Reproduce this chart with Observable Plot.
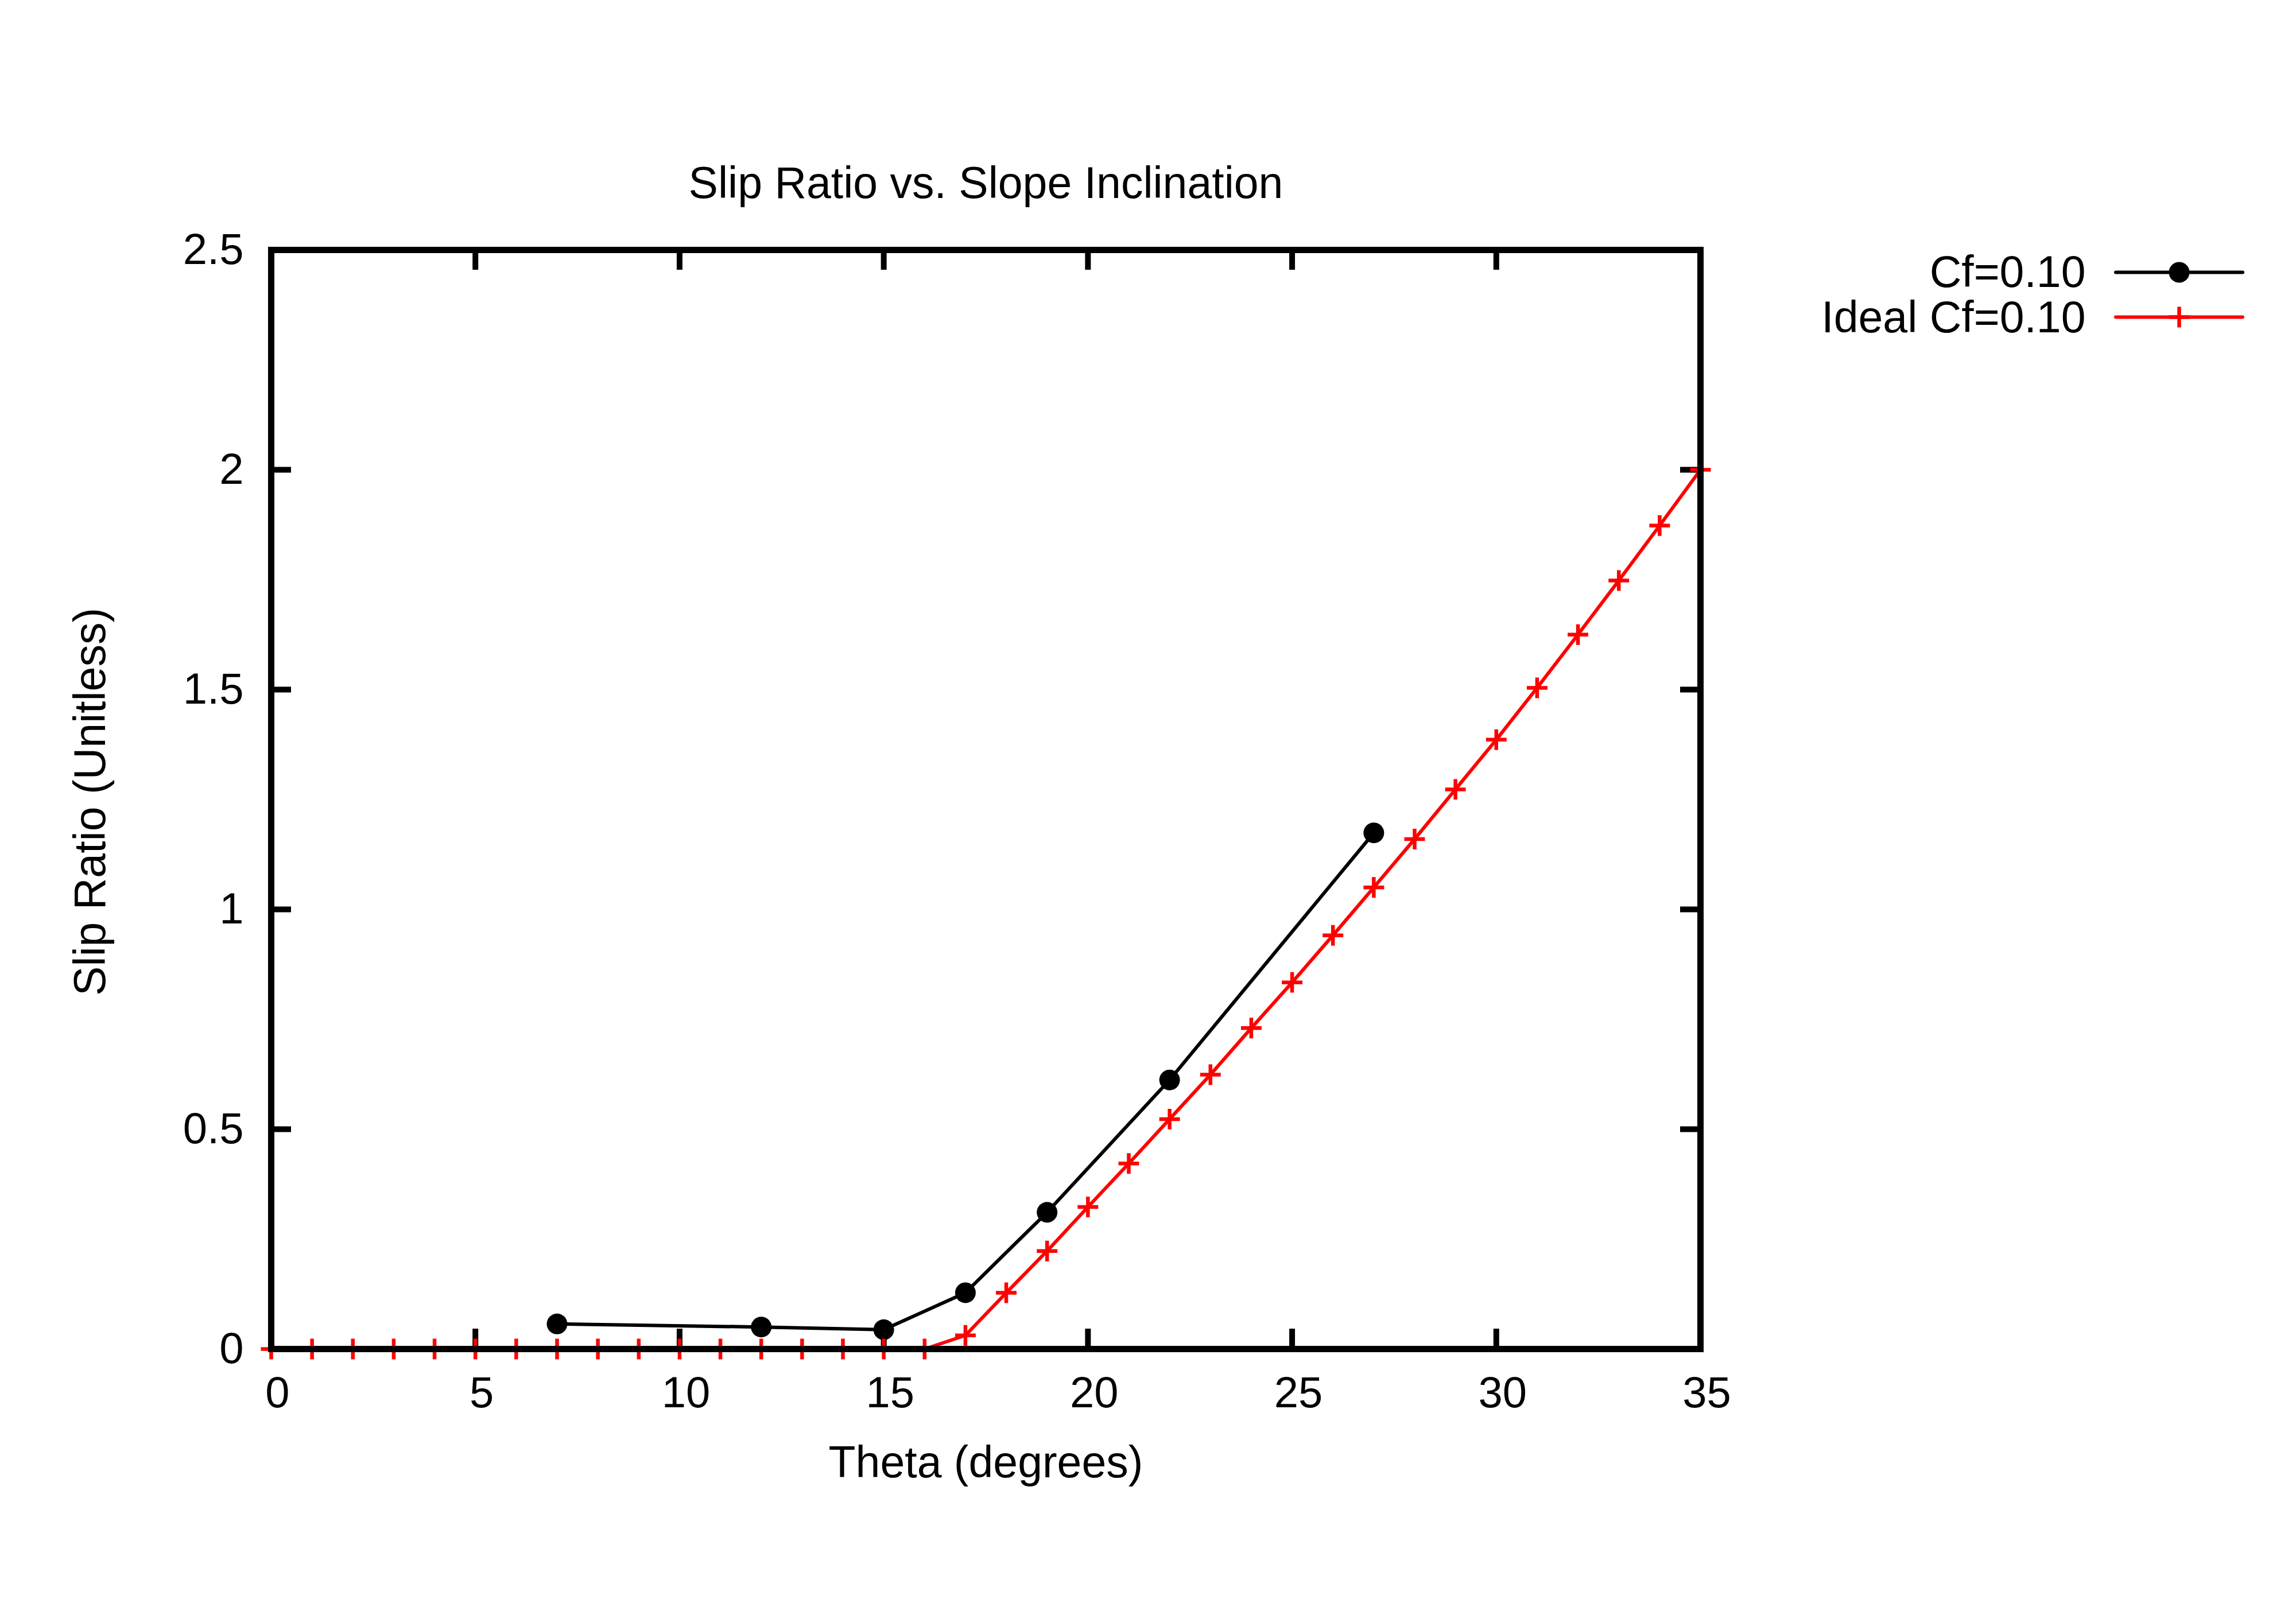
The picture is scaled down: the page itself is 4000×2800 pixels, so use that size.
<!DOCTYPE html>
<html>
<head>
<meta charset="utf-8">
<script src="https://cdn.jsdelivr.net/npm/d3@7"></script>
<script src="https://cdn.jsdelivr.net/npm/@observablehq/plot@0.6"></script>
<style>
  html, body { margin: 0; padding: 0; background: #ffffff; }
  #chart svg { display: block; }
</style>
</head>
<body>
<div id="chart"></div>
<script>
// ---- Data ----
const titleText = "Slip Ratio vs. Slope Inclination";
const xLabelText = "Theta (degrees)";
const yLabelText = "Slip Ratio (Unitless)";
const seriesNames = ["Cf=0.10", "Ideal Cf=0.10"];

const cfTheta = [7, 12, 15, 17, 19, 22, 27];
const cfSlip  = [0.057, 0.050, 0.044, 0.128, 0.311, 0.612, 1.174];

const idealTheta = [0, 1, 2, 3, 4, 5, 6, 7, 8, 9, 10, 11, 12, 13, 14, 15, 16, 17,
                    18, 19, 20, 21, 22, 23, 24, 25, 26, 27, 28, 29, 30, 31, 32, 33, 34, 35];
const idealSlip  = [0, 0, 0, 0, 0, 0, 0, 0, 0, 0, 0, 0, 0, 0, 0, 0, 0, 0.031,
                    0.128, 0.223, 0.323, 0.422, 0.523, 0.624, 0.730, 0.834, 0.941, 1.050,
                    1.160, 1.273, 1.386, 1.504, 1.625, 1.748, 1.873, 2.0];

const xTicks = [0, 5, 10, 15, 20, 25, 30, 35];
const xTickLabels = ["0", "5", "10", "15", "20", "25", "30", "35"];
const yTicks = [0, 0.5, 1, 1.5, 2, 2.5];
const yTickLabels = ["0", "0.5", "1", "1.5", "2", "2.5"];

// ---- Tables built from the arrays ----
const cfData = cfTheta.map((t, i) => ({theta: t, slip: cfSlip[i]}));
const idealData = idealTheta.map((t, i) => ({theta: t, slip: idealSlip[i]}));

// ---- Layout ----
const W = 4000, H = 2800;
const mL = 472, mR = 4000 - 2962, mT = 435, mB = 2800 - 2350;
const innerW = W - mL - mR, innerH = H - mT - mB;
const TL = 35;          // inward tick length
const FS = 76;          // tick label font size
const FL = 77;          // title / label / legend font size
const FONT = "'Liberation Sans', Arial, Helvetica, sans-serif";
const lineShape = { draw(ctx, l) { ctx.moveTo(0, 0); ctx.lineTo(0, -l); } };
const PLUS_R = 11.6;    // gives ~18px arms with d3.symbolPlus
const LW = 6;
const PW = 6.5;

const tickStyle = {stroke: "black", strokeWidth: 10, strokeLinecap: "butt"};

const chart = Plot.plot({
  width: W, height: H,
  marginLeft: mL, marginRight: mR, marginTop: mT, marginBottom: mB,
  style: {fontFamily: FONT, fontSize: FS + "px", background: "white", color: "black"},
  x: {domain: [0, 35]},
  y: {domain: [0, 2.5]},
  marks: [
    // inward ticks on all four sides
    Plot.tickX(xTicks, {x: d => d, insetTop: innerH - TL, ...tickStyle}),
    Plot.tickX(xTicks, {x: d => d, insetBottom: innerH - TL, ...tickStyle}),
    Plot.tickY(yTicks, {y: d => d, insetRight: innerW - TL, ...tickStyle}),
    Plot.tickY(yTicks, {y: d => d, insetLeft: innerW - TL, ...tickStyle}),
    // tick labels
    Plot.axisX({ticks: xTicks, tickSize: 0, tickPadding: 48, fontSize: FS, dx: 11,
                tickFormat: d => xTickLabels[xTicks.indexOf(d)], label: null}),
    Plot.axisY({ticks: yTicks, tickSize: 0, tickPadding: 48, fontSize: FS,
                tickFormat: d => yTickLabels[yTicks.indexOf(d)], label: null}),
    // series
    Plot.line(cfData, {x: "theta", y: "slip", stroke: "black", strokeWidth: LW}),
    Plot.dot(cfData, {x: "theta", y: "slip", r: 18, fill: "black", stroke: "none"}),
    Plot.line(idealData, {x: "theta", y: "slip", stroke: "#ff0000", strokeWidth: LW}),
    Plot.dot(idealData, {x: "theta", y: "slip", symbol: "plus", r: PLUS_R, stroke: "#ff0000", strokeWidth: PW, strokeLinecap: "butt"}),
    // border
    Plot.frame({stroke: "black", strokeWidth: 11}),
    // title and axis labels
    Plot.text([titleText], {text: d => d, frameAnchor: "top", dy: -91, lineAnchor: "bottom", fontSize: FL, fill: "black"}),
    Plot.text([xLabelText], {text: d => d, frameAnchor: "bottom", dy: 223, lineAnchor: "bottom", fontSize: FL, fill: "black"}),
    Plot.text([yLabelText], {text: d => d, frameAnchor: "left", dx: -290, dy: 4, rotate: -90, textAnchor: "middle", lineAnchor: "bottom", fontSize: FL, fill: "black"}),
    // legend
    Plot.text([seriesNames[0]], {text: d => d, frameAnchor: "top-right", dx: 671, dy: 64, textAnchor: "end", lineAnchor: "bottom", fontSize: FL, fill: "black"}),
    Plot.text([seriesNames[1]], {text: d => d, frameAnchor: "top-right", dx: 671, dy: 143, textAnchor: "end", lineAnchor: "bottom", fontSize: FL, fill: "black"}),
    Plot.vector([seriesNames[0]], {x: null, y: null, frameAnchor: "top-right", dx: 834, dy: 39, rotate: 90, length: 221, anchor: "middle", shape: lineShape, stroke: "black", strokeWidth: LW}),
    Plot.dot([seriesNames[0]], {x: null, y: null, frameAnchor: "top-right", dx: 834, dy: 39, r: 18, fill: "black", stroke: "none"}),
    Plot.vector([seriesNames[1]], {x: null, y: null, frameAnchor: "top-right", dx: 834, dy: 117, rotate: 90, length: 221, anchor: "middle", shape: lineShape, stroke: "#ff0000", strokeWidth: LW}),
    Plot.dot([seriesNames[1]], {x: null, y: null, frameAnchor: "top-right", dx: 834, dy: 117, symbol: "plus", r: PLUS_R, stroke: "#ff0000", strokeWidth: PW, strokeLinecap: "butt"})
  ]
});

document.getElementById("chart").appendChild(chart);
</script>
</body>
</html>
